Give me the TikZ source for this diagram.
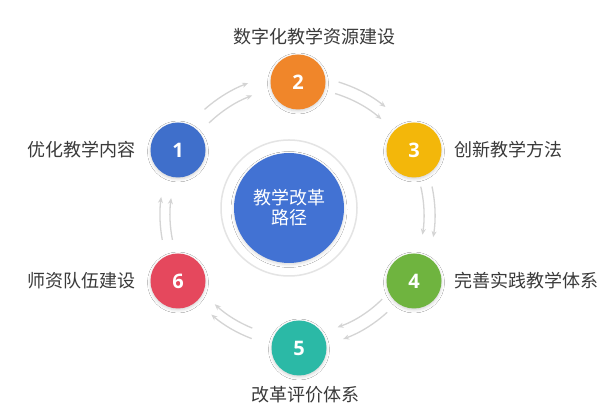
\documentclass[tikz,border=0pt]{standalone}
\usepackage{fontspec}
\newfontfamily\cjk{Noto Sans CJK SC}
\newfontfamily\numfont{Open Sans}
\usetikzlibrary{arrows.meta,shadows.blur}
\definecolor{cone}{HTML}{3F6FCB}
\definecolor{ctwo}{HTML}{F0862A}
\definecolor{cthree}{HTML}{F3B70A}
\definecolor{cfour}{HTML}{6FB43F}
\definecolor{cfive}{HTML}{2BB9A6}
\definecolor{csix}{HTML}{E5485D}
\definecolor{ccenter}{HTML}{4272D3}
\definecolor{txtgray}{HTML}{3A3A3A}
\definecolor{arrgray}{HTML}{D4D4D4}
\definecolor{ringgray}{HTML}{E4E4E4}
\tikzset{
  numcircle/.style={circle, minimum size=55pt, inner sep=0pt, text=white,
    font=\numfont\bfseries\fontsize{20}{22}\selectfont,
    blur shadow={shadow xshift=0pt, shadow yshift=-1.5pt, shadow blur radius=3pt, shadow opacity=18}},
  lbl/.style={inner sep=0pt, text=txtgray, font=\cjk\fontsize{18}{20}\selectfont},
  arr/.style={draw=arrgray, line width=1.3pt, -{Stealth[length=6pt,width=5pt]}},
}
\begin{document}
\begin{tikzpicture}[x=1pt,y=1pt]
\useasboundingbox (0,0) rectangle (615,411);
\fill[white] (0,0) rectangle (615,411);
\coordinate (O) at (298,196);
% center
\node[circle, draw=ringgray, line width=1.5pt, fill=white, minimum size=136pt, inner sep=0pt] (ring) at (289,203) {};
\node[circle, fill=ccenter, minimum size=110pt, inner sep=0pt, text=white, align=center,
  font=\cjk\fontsize{18}{20}\selectfont,
  blur shadow={shadow xshift=0pt, shadow yshift=-1.5pt, shadow blur radius=3pt, shadow opacity=15}] (c) at (289,203) {教学改革\\路径};
% numbered circles
\node[numcircle, fill=cone]   (n1) at (178,261) {1};
\node[numcircle, fill=ctwo]   (n2) at (298,329) {2};
\node[numcircle, fill=cthree] (n3) at (414,261) {3};
\node[numcircle, fill=cfour]  (n4) at (414,130) {4};
\node[numcircle, fill=cfive]  (n5) at (299,63)  {5};
\node[numcircle, fill=csix]   (n6) at (178,130) {6};
% labels
\node[lbl, anchor=east] (l1) at (136,261) {优化教学内容};
\node[lbl] (l2) at (314,374) {数字化教学资源建设};
\node[lbl, anchor=west] (l3) at (454,261) {创新教学方法};
\node[lbl, anchor=west] (l4) at (454,130) {完善实践教学体系};
\node[lbl] (l5) at (305.5,16) {改革评价体系};
\node[lbl, anchor=east] (l6) at (136,130) {师资队伍建设};
% arrows 1 -> 2
\draw[arr] ([shift={(131.5:141pt)}]O) arc[start angle=131.5, end angle=110.7, radius=141pt];
\draw[arr] ([shift={(134:128pt)}]O) arc[start angle=134, end angle=111, radius=128pt];
% arrows 2 -> 3
\draw[arr] ([shift={(73:139pt)}]O) arc[start angle=73, end angle=51, radius=139pt];
\draw[arr] ([shift={(73:127pt)}]O) arc[start angle=73, end angle=49, radius=127pt];
% arrows 3 -> 4
\draw[arr] ([shift={(12:137pt)}]O) arc[start angle=12, end angle=-9.3, radius=137pt];
\draw[arr] ([shift={(13:126pt)}]O) arc[start angle=13, end angle=-9, radius=126pt];
% arrows 4 -> 5
\draw[arr] ([shift={(-47.5:132pt)}]O) arc[start angle=-47.5, end angle=-70, radius=132pt];
\draw[arr] ([shift={(-45:119pt)}]O) arc[start angle=-45, end angle=-70.6, radius=119pt];
% arrows 5 -> 6
\draw[arr] ([shift={(-110.5:132pt)}]O) arc[start angle=-110.5, end angle=-131, radius=132pt];
\draw[arr] ([shift={(-112:122pt)}]O) arc[start angle=-112, end angle=-133, radius=122pt];
% arrows 6 -> 1
\draw[arr] ([shift={(-169.6:138pt)}]O) arc[start angle=-169.6, end angle=-187.5, radius=138pt];
\draw[arr] ([shift={(-168.8:128pt)}]O) arc[start angle=-168.8, end angle=-187.6, radius=128pt];
\end{tikzpicture}
\end{document}
